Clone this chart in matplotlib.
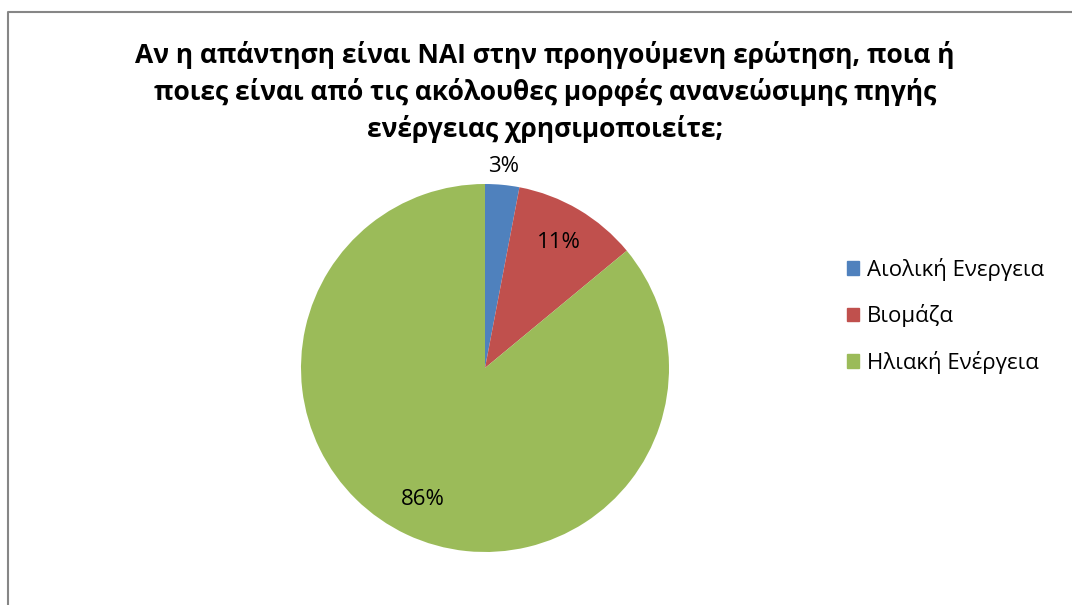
import matplotlib
matplotlib.use('Agg')
import matplotlib.pyplot as plt
from matplotlib.lines import Line2D
import numpy as np

plt.rcParams['font.family'] = ['Open Sans', 'DejaVu Sans']

title = ('Αν η απάντηση είναι ΝΑΙ στην προηγούμενη ερώτηση, ποια ή\n'
         'ποιες είναι από τις ακόλουθες μορφές ανανεώσιμης πηγής\n'
         'ενέργειας χρησιμοποιείτε;')
categories = ['Αιολική Ενεργεια', 'Βιομάζα', 'Ηλιακή Ενέργεια']
shares = [3, 11, 86]
colors = ['#4F81BD', '#C0504D', '#9BBB59']

W, H = 1072, 605
fig = plt.figure(figsize=(W / 100, H / 100), dpi=100)

# pie axes: centre (485, 368) px, radius 184 px
cx, cy, r = 485, 368, 184
ax = fig.add_axes([(cx - r) / W, (H - cy - r) / H, 2 * r / W, 2 * r / H])
wedges, texts, pcts = ax.pie(shares, colors=colors, startangle=90, counterclock=False,
                             autopct='%1.0f%%', pctdistance=0.79,
                             textprops={'fontsize': 16, 'color': 'black'})
ax.set_xlim(-1, 1)
ax.set_ylim(-1, 1)
ax.set_aspect('equal')
ax.axis('off')

# small slice label sits outside the pie
w0 = wedges[0]
mid = np.deg2rad((w0.theta1 + w0.theta2) / 2)
pcts[0].set_position((1.1 * np.cos(mid), 1.1 * np.sin(mid)))

fig.text(0.5 * (135 + 955) / W, 1 - 41 / H, title, ha='center', va='top',
         fontsize=19, fontweight='bold', linespacing=1.42)

handles = [plt.Rectangle((0, 0), 1, 1, color=c) for c in colors]
fig.legend(handles, categories, loc='upper left', bbox_to_anchor=(827 / W, 1 - 238 / H),
           frameon=False, fontsize=16, handlelength=0.55, handleheight=0.55,
           handletextpad=0.35, labelspacing=1.05)

# chart frame (top and left edges visible)
fig.add_artist(Line2D([8 / W, 8 / W, 1], [0, 1 - 12 / H, 1 - 12 / H],
                      transform=fig.transFigure, color='#868686', lw=1.5))

fig.savefig('out.png', dpi=100)
